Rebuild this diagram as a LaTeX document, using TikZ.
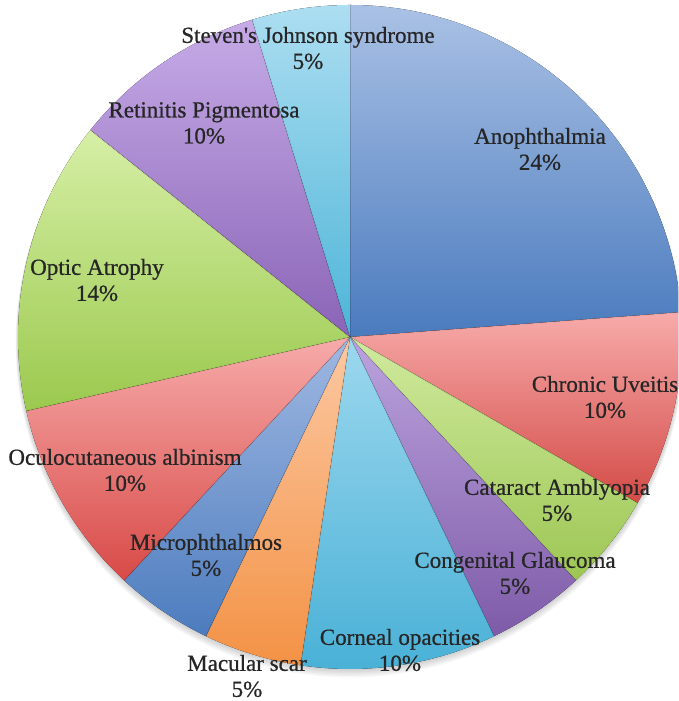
\documentclass[tikz,border=0pt]{standalone}
\usepackage{fontspec}
\setmainfont{Liberation Serif}
\newfontfamily\lblfont{Liberation Serif}[FakeBold=0.7]
\definecolor{anophT}{HTML}{AAC1E5}\definecolor{anophB}{HTML}{4A7BBE}
\definecolor{chronT}{HTML}{F7ABAA}\definecolor{chronB}{HTML}{D34B47}
\definecolor{catT}{HTML}{D0EA9E}\definecolor{catB}{HTML}{9CC653}
\definecolor{congT}{HTML}{BCA3DE}\definecolor{congB}{HTML}{7E5BA8}
\definecolor{cornT}{HTML}{9DD8EE}\definecolor{cornB}{HTML}{48B0D6}
\definecolor{macT}{HTML}{FCC8A2}\definecolor{macB}{HTML}{F39245}
\definecolor{micT}{HTML}{A0B8E2}\definecolor{micB}{HTML}{4C7CBE}
\definecolor{oculT}{HTML}{F6ABAA}\definecolor{oculB}{HTML}{D84A47}
\definecolor{optT}{HTML}{D6EFA6}\definecolor{optB}{HTML}{9BC94E}
\definecolor{retT}{HTML}{C6ABE7}\definecolor{retB}{HTML}{8A64B7}
\definecolor{stevT}{HTML}{ADDEF1}\definecolor{stevB}{HTML}{4DB5D8}
\newcommand\pieslice[4]{%
  \fill[top color=#3, bottom color=#4] (c) -- ++(#1:\R) arc[start angle=#1, end angle=#2, radius=\R] -- cycle;
  \draw[black, opacity=0.045, line width=1.6] (c) -- ++(#1:\R);}
\begin{document}
\begin{tikzpicture}[x=1pt, y=1pt,
  lbl/.style={align=center, font=\lblfont\fontsize{23}{26}\selectfont, text=black!85, inner sep=0pt}]
\useasboundingbox (0,0) rectangle (678,701);
\clip (0,0) rectangle (678,701);
\coordinate (c) at (350,364);
\def\R{332}
% soft shadow under the disc
\foreach \k in {1,...,6}
  \fill[black, opacity=0.03] (350,{364-\k}) circle[radius={\R+0.4*\k}];
% slices, clockwise from twelve o'clock (21 cases, 360/21 degrees each)
\pieslice{90}{4.286}{anophT}{anophB}
\pieslice{4.286}{-30}{chronT}{chronB}
\pieslice{-30}{-47.143}{catT}{catB}
\pieslice{-47.143}{-64.286}{congT}{congB}
\pieslice{-64.286}{-98.571}{cornT}{cornB}
\pieslice{-98.571}{-115.714}{macT}{macB}
\pieslice{-115.714}{-132.857}{micT}{micB}
\pieslice{-132.857}{-167.143}{oculT}{oculB}
\pieslice{-167.143}{-218.571}{optT}{optB}
\pieslice{-218.571}{-252.857}{retT}{retB}
\pieslice{-252.857}{-270}{stevT}{stevB}
% data labels
\node[lbl] (stev) at (308,653) {Steven\char39 s Johnson syndrome\\5\%};
\node[lbl] (ret)  at (204,578) {Retinitis Pigmentosa\\10\%};
\node[lbl] (anoph) at (540,552) {Anophthalmia\\24\%};
\node[lbl] (opt)  at (97,421) {Optic Atrophy\\14\%};
\node[lbl] (chron) at (605,304) {Chronic Uveitis\\10\%};
\node[lbl] (ocul) at (125,231) {Oculocutaneous albinism\\10\%};
\node[lbl] (cat)  at (557,201) {Cataract Amblyopia\\5\%};
\node[lbl] (mic)  at (206,146) {Microphthalmos\\5\%};
\node[lbl] (cong) at (515,128) {Congenital Glaucoma\\5\%};
\node[lbl] (corn) at (400,51) {Corneal opacities\\10\%};
\node[lbl] (mac)  at (247,25) {Macular scar\\5\%};
\end{tikzpicture}
\end{document}
